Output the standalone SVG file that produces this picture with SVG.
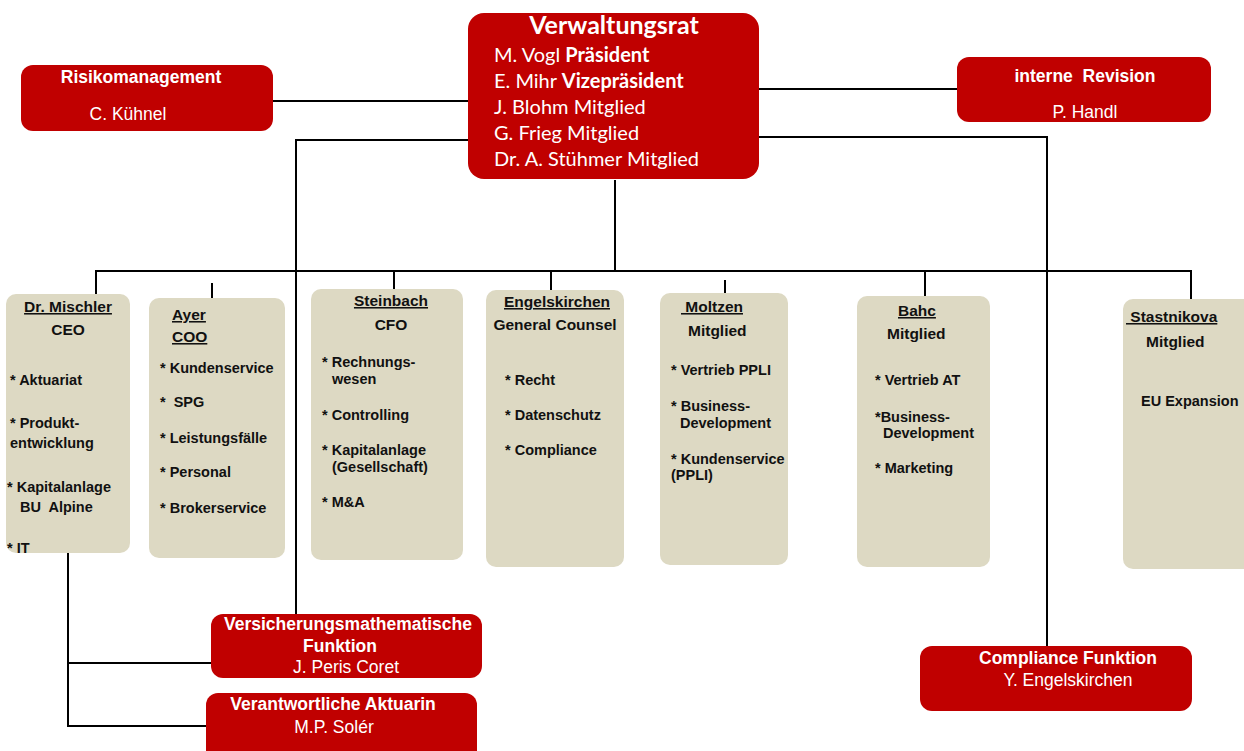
<svg xmlns="http://www.w3.org/2000/svg" width="1244" height="751" viewBox="0 0 1244 751">
<style>
  text { white-space: pre; }
  .red { fill: #C00000; }
  .beige { fill: #DDD9C3; }
  .conn { fill: none; stroke: #000; stroke-width: 2; }
  .wt { font-family: "Liberation Sans", Arial, sans-serif; font-size: 17.5px; fill: #fff; }
  .wb { font-weight: bold; }
  .vr { font-family: Lato, "Open Sans", sans-serif; fill: #fff; font-size: 20px; }
  .vt { font-family: Lato, "Open Sans", sans-serif; fill: #fff; font-size: 25px; font-weight: bold; }
  .bh { font-family: "Liberation Sans", Arial, sans-serif; font-size: 15.5px; font-weight: bold; fill: #111; }
  .bi { font-family: "Liberation Sans", Arial, sans-serif; font-size: 14.5px; font-weight: bold; fill: #111; }
  .u { text-decoration: underline; }
  .c { text-anchor: middle; }
</style>
<rect width="1244" height="751" fill="#fff"/>

<g id="connectors">
  <path class="conn" d="M273 101 H468"/>
  <path class="conn" d="M759 89 H957"/>
  <path class="conn" d="M468 140 H296 V614"/>
  <path class="conn" d="M759 137 H1047 V646"/>
  <path class="conn" d="M615 180 V271"/>
  <path class="conn" d="M96 294 V271 H1191 V300"/>
  <path class="conn" d="M212 283 V298"/>
  <path class="conn" d="M394 271 V289"/>
  <path class="conn" d="M551 271 V290"/>
  <path class="conn" d="M725 280 V293"/>
  <path class="conn" d="M925 271 V296"/>
  <path class="conn" d="M68 553 V726 H206"/>
  <path class="conn" d="M68 663 H211"/>
</g>

<g id="verwaltungsrat">
  <rect class="red" x="468" y="13" width="291" height="166" rx="16"/>
  <text class="vt c" x="614" y="34">Verwaltungsrat</text>
  <text class="vr" x="494" y="62">M. Vogl <tspan font-weight="bold">Präsident</tspan></text>
  <text class="vr" x="494" y="88">E. Mihr <tspan font-weight="bold">Vizepräsident</tspan></text>
  <text class="vr" x="494" y="114">J. Blohm Mitglied</text>
  <text class="vr" x="494" y="140">G. Frieg Mitglied</text>
  <text class="vr" x="494" y="166">Dr. A. Stühmer Mitglied</text>
</g>

<g id="risikomanagement">
  <rect class="red" x="21" y="65" width="252" height="66" rx="12"/>
  <text class="wt wb c" x="141" y="83">Risikomanagement</text>
  <text class="wt c" x="128" y="120">C. Kühnel</text>
</g>

<g id="interne-revision">
  <rect class="red" x="957" y="57" width="254" height="65" rx="12"/>
  <text class="wt wb c" x="1085" y="82" xml:space="preserve">interne  Revision</text>
  <text class="wt c" x="1085" y="118">P. Handl</text>
</g>

<g id="mischler">
  <rect class="beige" x="6" y="294" width="124" height="259" rx="10"/>
  <text class="bh u c" x="68" y="312">Dr. Mischler</text>
  <text class="bh c" x="68" y="335">CEO</text>
  <text class="bi" x="10" y="385">* Aktuariat</text>
  <text class="bi" x="10" y="428">* Produkt-</text>
  <text class="bi" x="10" y="448">entwicklung</text>
  <text class="bi" x="7" y="492">* Kapitalanlage</text>
  <text class="bi" x="20" y="512" xml:space="preserve">BU  Alpine</text>
  <text class="bi" x="7" y="553">* IT</text>
</g>

<g id="ayer">
  <rect class="beige" x="149" y="298" width="136" height="260" rx="10"/>
  <text class="bh u" x="172" y="320">Ayer</text>
  <text class="bh u" x="172" y="342">COO</text>
  <text class="bi" x="160" y="373">* Kundenservice</text>
  <text class="bi" x="160" y="407" xml:space="preserve">*  SPG</text>
  <text class="bi" x="160" y="443">* Leistungsfälle</text>
  <text class="bi" x="160" y="477">* Personal</text>
  <text class="bi" x="160" y="513">* Brokerservice</text>
</g>

<g id="steinbach">
  <rect class="beige" x="311" y="289" width="152" height="271" rx="10"/>
  <text class="bh u c" x="391" y="306">Steinbach</text>
  <text class="bh c" x="391" y="330">CFO</text>
  <text class="bi" x="322" y="367">* Rechnungs-</text>
  <text class="bi" x="332" y="384">wesen</text>
  <text class="bi" x="322" y="420">* Controlling</text>
  <text class="bi" x="322" y="455">* Kapitalanlage</text>
  <text class="bi" x="332" y="472">(Gesellschaft)</text>
  <text class="bi" x="322" y="507">* M&amp;A</text>
</g>

<g id="engelskirchen">
  <rect class="beige" x="486" y="290" width="138" height="277" rx="10"/>
  <text class="bh u c" x="557" y="307">Engelskirchen</text>
  <text class="bh c" x="555" y="330">General Counsel</text>
  <text class="bi" x="505" y="385">* Recht</text>
  <text class="bi" x="505" y="420">* Datenschutz</text>
  <text class="bi" x="505" y="455">* Compliance</text>
</g>

<g id="moltzen">
  <rect class="beige" x="660" y="293" width="128" height="272" rx="10"/>
  <text class="bh u" x="681" y="312" xml:space="preserve"> Moltzen</text>
  <text class="bh" x="688" y="336">Mitglied</text>
  <text class="bi" x="671" y="375">* Vertrieb PPLI</text>
  <text class="bi" x="671" y="411">* Business-</text>
  <text class="bi" x="680" y="428">Development</text>
  <text class="bi" x="671" y="464">* Kundenservice</text>
  <text class="bi" x="671" y="480">(PPLI)</text>
</g>

<g id="bahc">
  <rect class="beige" x="857" y="296" width="133" height="271" rx="10"/>
  <text class="bh u" x="898" y="316">Bahc</text>
  <text class="bh" x="887" y="339">Mitglied</text>
  <text class="bi" x="875" y="385">* Vertrieb AT</text>
  <text class="bi" x="875" y="422">*Business-</text>
  <text class="bi" x="883" y="438">Development</text>
  <text class="bi" x="875" y="473">* Marketing</text>
</g>

<g id="stastnikova">
  <rect class="beige" x="1123" y="299" width="140" height="270" rx="10"/>
  <text class="bh u" x="1126" y="322" xml:space="preserve"> Stastnikova</text>
  <text class="bh" x="1146" y="347">Mitglied</text>
  <text class="bi" x="1141" y="406">EU Expansion</text>
</g>

<g id="versicherungsmathematische-funktion">
  <rect class="red" x="211" y="614" width="271" height="64" rx="12"/>
  <text class="wt wb c" x="348" y="630">Versicherungsmathematische</text>
  <text class="wt wb c" x="340" y="652">Funktion</text>
  <text class="wt c" x="346" y="673">J. Peris Coret</text>
</g>

<g id="verantwortliche-aktuarin">
  <rect class="red" x="206" y="693" width="271" height="70" rx="12"/>
  <text class="wt wb c" x="333" y="710">Verantwortliche Aktuarin</text>
  <text class="wt c" x="334" y="733">M.P. Solér</text>
</g>

<g id="compliance-funktion">
  <rect class="red" x="920" y="646" width="272" height="65" rx="12"/>
  <text class="wt wb c" x="1068" y="664">Compliance Funktion</text>
  <text class="wt c" x="1068" y="686">Y. Engelskirchen</text>
</g>
</svg>
